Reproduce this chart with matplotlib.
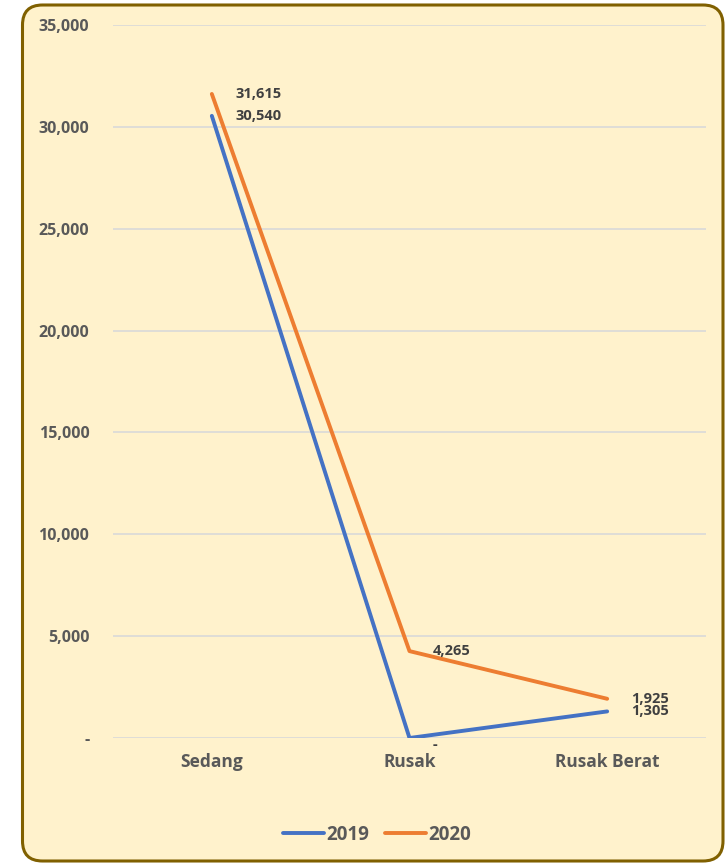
import matplotlib.pyplot as plt
from matplotlib.patches import FancyBboxPatch

# ---------------------------
# data
# ---------------------------
categories = ["Sedang", "Rusak", "Rusak Berat"]
val_2019 = [30540, 0, 1305]
val_2020 = [31615, 4265, 1925]
yticks = [0, 5000, 10000, 15000, 20000, 25000, 30000, 35000]

blue = "#4472C4"
orange = "#ED7D31"
txt = "#595959"
plt.rcParams["font.family"] = ["Open Sans", "DejaVu Sans"]


def fmt(v):
    return "-" if v == 0 else f"{v:,}"


# ---------------------------
# figure + background box (inches)
# ---------------------------
fig = plt.figure(figsize=(7.25, 8.64), dpi=100)
box = FancyBboxPatch(
    (0.225, 0.03), 7.005, 8.56,
    boxstyle="round,pad=0,rounding_size=0.2",
    transform=fig.dpi_scale_trans, facecolor="#FFF2CC",
    edgecolor="#806000", linewidth=2.2, zorder=-1
)
fig.patches.append(box)

ax = fig.add_axes([113 / 725, 1 - 738 / 864, 593 / 725, 713 / 864])
ax.set_facecolor("none")
ax.set_zorder(1)

x = list(range(len(categories)))
ax.plot(x, val_2019, color=blue, lw=2.8, label="2019", solid_capstyle="round", zorder=3)
ax.plot(x, val_2020, color=orange, lw=2.8, label="2020", solid_capstyle="round", zorder=3)

# data labels
for series in (val_2020, val_2019):
    for i, v in enumerate(series):
        ax.annotate(fmt(v), (i, v), xytext=(17, 0), textcoords="offset points",
                    fontsize=10.5, fontweight="bold", color="#404040",
                    va="top" if v == 0 else "center", ha="left")

ax.set_xlim(-0.5, 2.5)
ax.set_ylim(0, 35000)
ax.set_xticks(x)
ax.set_xticklabels(categories, fontsize=12.5, fontweight="bold", color=txt)
ax.set_yticks(yticks)
ax.set_yticklabels([fmt(v) for v in yticks], fontsize=11.5, fontweight="bold", color=txt)
ax.tick_params(length=0, axis="y", pad=17)
ax.tick_params(length=0, axis="x", pad=11)
ax.grid(axis="y", color="#D9D9D9", lw=1.2)
ax.set_axisbelow(True)
for s in ax.spines.values():
    s.set_visible(False)

fig.legend(loc="center", bbox_to_anchor=(0.52, 1 - 835 / 864), ncol=2, frameon=False,
           prop={"size": 13.5, "weight": "bold"}, handlelength=2.2, handletextpad=0.15,
           columnspacing=0.8, labelcolor=txt)

fig.savefig("out.png", dpi=100)
